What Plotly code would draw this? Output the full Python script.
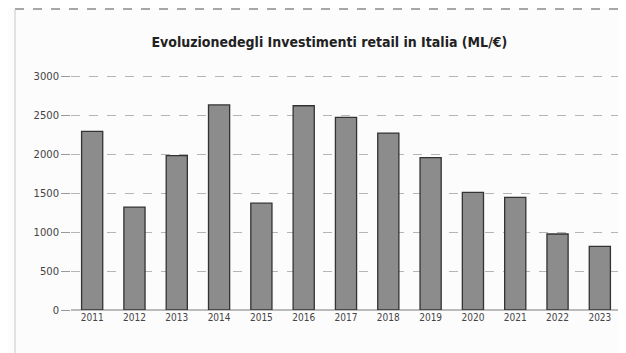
import plotly.graph_objects as go

years = ["2011", "2012", "2013", "2014", "2015", "2016", "2017",
         "2018", "2019", "2020", "2021", "2022", "2023"]
values = [2290, 1320, 1980, 2630, 1370, 2620, 2470,
          2270, 1955, 1510, 1445, 975, 815]
y_ticks = [0, 500, 1000, 1500, 2000, 2500, 3000]

fig = go.Figure()
fig.add_trace(go.Bar(
    x=years, y=values,
    marker=dict(color="#8c8c8c", line=dict(color="#333333", width=1.3)),
    width=0.5,
))

fig.update_layout(
    width=618, height=345,
    margin=dict(l=63, r=5, t=65, b=43, autoexpand=False),
    paper_bgcolor="#fcfcfc", plot_bgcolor="#fcfcfc",
    showlegend=False,
    title=dict(text="<b>Evoluzionedegli Investimenti retail in Italia (ML/€)</b>",
               x=0.52, xanchor="center", y=1 - 34 / 345, yanchor="middle",
               font=dict(family="DejaVu Sans Condensed, sans-serif",
                         size=14, color="#222222")),
    xaxis=dict(showgrid=False, showline=False, ticks="",
               tickfont=dict(family="DejaVu Sans Condensed, sans-serif", size=10, color="#444444")),
    yaxis=dict(range=[0, 3040], tickvals=y_ticks, showgrid=True,
               gridcolor="#b5b5b5", gridwidth=1, griddash="dash",
               zeroline=True, zerolinecolor="#bbbbbb", ticks="outside",
               ticklen=9, tickcolor="#999999",
               tickfont=dict(family="DejaVu Sans, sans-serif", size=10, color="#444444")),
)
top_y = 1 + 64 / 237
left_x = -56 / 550
fig.add_shape(type="line", xref="paper", yref="paper", x0=left_x, x1=1.01,
              y0=top_y, y1=top_y,
              line=dict(color="#8a8a8a", width=1.5, dash="dash"))
fig.add_shape(type="line", xref="paper", yref="paper", x0=left_x, x1=left_x,
              y0=top_y, y1=-43 / 237,
              line=dict(color="#c8c8c8", width=1))

fig.write_html("out.html")
